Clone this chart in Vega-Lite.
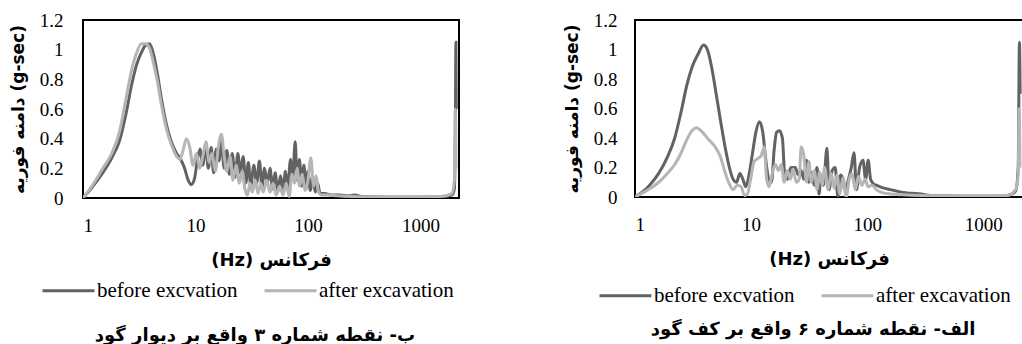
{
  "$schema": "https://vega.github.io/schema/vega-lite/v6.json",
  "padding": {"left": 8, "top": 10, "right": 0, "bottom": 0},
  "background": "white",
  "datasets": {
    "b": [
      {"f":1,"v":0,"s":"before excvation"},{"f":1.2,"v":0.07,"s":"before excvation"},{"f":1.5,"v":0.17,"s":"before excvation"},{"f":1.8,"v":0.27,"s":"before excvation"},{"f":2.1,"v":0.38,"s":"before excvation"},{"f":2.4,"v":0.56,"s":"before excvation"},{"f":2.7,"v":0.76,"s":"before excvation"},{"f":3.0,"v":0.9,"s":"before excvation"},{"f":3.3,"v":0.98,"s":"before excvation"},{"f":3.6,"v":1.03,"s":"before excvation"},{"f":3.9,"v":1.04,"s":"before excvation"},{"f":4.2,"v":0.98,"s":"before excvation"},{"f":4.6,"v":0.83,"s":"before excvation"},{"f":5.0,"v":0.66,"s":"before excvation"},{"f":5.5,"v":0.5,"s":"before excvation"},{"f":6.1,"v":0.38,"s":"before excvation"},{"f":6.8,"v":0.3,"s":"before excvation"},{"f":7.4,"v":0.26,"s":"before excvation"},{"f":8.0,"v":0.2,"s":"before excvation"},{"f":8.6,"v":0.12,"s":"before excvation"},{"f":9.2,"v":0.09,"s":"before excvation"},{"f":9.8,"v":0.13,"s":"before excvation"},{"f":10.4,"v":0.26,"s":"before excvation"},{"f":11.0,"v":0.33,"s":"before excvation"},{"f":11.6,"v":0.22,"s":"before excvation"},{"f":12.3,"v":0.35,"s":"before excvation"},{"f":13.0,"v":0.2,"s":"before excvation"},{"f":13.8,"v":0.34,"s":"before excvation"},{"f":14.5,"v":0.17,"s":"before excvation"},{"f":15.3,"v":0.33,"s":"before excvation"},{"f":16.2,"v":0.25,"s":"before excvation"},{"f":17.0,"v":0.38,"s":"before excvation"},{"f":18.0,"v":0.2,"s":"before excvation"},{"f":19.0,"v":0.32,"s":"before excvation"},{"f":20.0,"v":0.16,"s":"before excvation"},{"f":21.2,"v":0.3,"s":"before excvation"},{"f":22.5,"v":0.14,"s":"before excvation"},{"f":23.8,"v":0.3,"s":"before excvation"},{"f":25.0,"v":0.17,"s":"before excvation"},{"f":26.5,"v":0.28,"s":"before excvation"},{"f":28.0,"v":0.1,"s":"before excvation"},{"f":29.5,"v":0.24,"s":"before excvation"},{"f":31,"v":0.08,"s":"before excvation"},{"f":33,"v":0.22,"s":"before excvation"},{"f":35,"v":0.1,"s":"before excvation"},{"f":37,"v":0.25,"s":"before excvation"},{"f":39,"v":0.07,"s":"before excvation"},{"f":41,"v":0.2,"s":"before excvation"},{"f":43.5,"v":0.1,"s":"before excvation"},{"f":46,"v":0.2,"s":"before excvation"},{"f":48.5,"v":0.06,"s":"before excvation"},{"f":51,"v":0.17,"s":"before excvation"},{"f":54,"v":0.04,"s":"before excvation"},{"f":57,"v":0.15,"s":"before excvation"},{"f":60,"v":0.05,"s":"before excvation"},{"f":63,"v":0.18,"s":"before excvation"},{"f":66,"v":0.07,"s":"before excvation"},{"f":70,"v":0.26,"s":"before excvation"},{"f":73,"v":0.12,"s":"before excvation"},{"f":77,"v":0.38,"s":"before excvation"},{"f":80,"v":0.12,"s":"before excvation"},{"f":84,"v":0.26,"s":"before excvation"},{"f":88,"v":0.08,"s":"before excvation"},{"f":92,"v":0.22,"s":"before excvation"},{"f":96,"v":0.06,"s":"before excvation"},{"f":100,"v":0.18,"s":"before excvation"},{"f":105,"v":0.05,"s":"before excvation"},{"f":110,"v":0.14,"s":"before excvation"},{"f":116,"v":0.04,"s":"before excvation"},{"f":122,"v":0.1,"s":"before excvation"},{"f":128,"v":0.03,"s":"before excvation"},{"f":140,"v":0.03,"s":"before excvation"},{"f":160,"v":0.02,"s":"before excvation"},{"f":190,"v":0.02,"s":"before excvation"},{"f":230,"v":0.015,"s":"before excvation"},{"f":260,"v":0.02,"s":"before excvation"},{"f":300,"v":0.01,"s":"before excvation"},{"f":400,"v":0.008,"s":"before excvation"},{"f":600,"v":0.005,"s":"before excvation"},{"f":1000,"v":0.005,"s":"before excvation"},{"f":1500,"v":0.008,"s":"before excvation"},{"f":1900,"v":0.02,"s":"before excvation"},{"f":2000,"v":0.06,"s":"before excvation"},{"f":2040,"v":0.4,"s":"before excvation"},{"f":2065,"v":1.05,"s":"before excvation"},{"f":2080,"v":0.6,"s":"before excvation"},
      {"f":1,"v":0,"s":"after excavation"},{"f":1.2,"v":0.08,"s":"after excavation"},{"f":1.5,"v":0.2,"s":"after excavation"},{"f":1.8,"v":0.3,"s":"after excavation"},{"f":2.1,"v":0.44,"s":"after excavation"},{"f":2.4,"v":0.66,"s":"after excavation"},{"f":2.7,"v":0.86,"s":"after excavation"},{"f":3.0,"v":0.98,"s":"after excavation"},{"f":3.3,"v":1.04,"s":"after excavation"},{"f":3.6,"v":1.04,"s":"after excavation"},{"f":3.9,"v":1.01,"s":"after excavation"},{"f":4.2,"v":0.92,"s":"after excavation"},{"f":4.6,"v":0.78,"s":"after excavation"},{"f":5.0,"v":0.62,"s":"after excavation"},{"f":5.5,"v":0.47,"s":"after excavation"},{"f":6.1,"v":0.36,"s":"after excavation"},{"f":6.8,"v":0.28,"s":"after excavation"},{"f":7.3,"v":0.26,"s":"after excavation"},{"f":7.8,"v":0.33,"s":"after excavation"},{"f":8.3,"v":0.4,"s":"after excavation"},{"f":8.9,"v":0.34,"s":"after excavation"},{"f":9.5,"v":0.22,"s":"after excavation"},{"f":10.2,"v":0.3,"s":"after excavation"},{"f":10.9,"v":0.2,"s":"after excavation"},{"f":11.6,"v":0.28,"s":"after excavation"},{"f":12.4,"v":0.38,"s":"after excavation"},{"f":13.2,"v":0.24,"s":"after excavation"},{"f":14.0,"v":0.3,"s":"after excavation"},{"f":15.0,"v":0.18,"s":"after excavation"},{"f":16.0,"v":0.35,"s":"after excavation"},{"f":17.0,"v":0.43,"s":"after excavation"},{"f":18.0,"v":0.28,"s":"after excavation"},{"f":19.0,"v":0.18,"s":"after excavation"},{"f":20.3,"v":0.28,"s":"after excavation"},{"f":21.5,"v":0.12,"s":"after excavation"},{"f":23.0,"v":0.22,"s":"after excavation"},{"f":24.5,"v":0.1,"s":"after excavation"},{"f":26,"v":0.18,"s":"after excavation"},{"f":27.5,"v":0.06,"s":"after excavation"},{"f":29,"v":0.02,"s":"after excavation"},{"f":30.5,"v":0.1,"s":"after excavation"},{"f":32,"v":0.04,"s":"after excavation"},{"f":34,"v":0.12,"s":"after excavation"},{"f":36,"v":0.03,"s":"after excavation"},{"f":38,"v":0.1,"s":"after excavation"},{"f":40,"v":0.04,"s":"after excavation"},{"f":43,"v":0.12,"s":"after excavation"},{"f":46,"v":0.04,"s":"after excavation"},{"f":49,"v":0.1,"s":"after excavation"},{"f":52,"v":0.02,"s":"after excavation"},{"f":56,"v":0.08,"s":"after excavation"},{"f":60,"v":0.02,"s":"after excavation"},{"f":64,"v":0.1,"s":"after excavation"},{"f":68,"v":0.01,"s":"after excavation"},{"f":72,"v":0.16,"s":"after excavation"},{"f":76,"v":0.1,"s":"after excavation"},{"f":80,"v":0.2,"s":"after excavation"},{"f":84,"v":0.08,"s":"after excavation"},{"f":89,"v":0.16,"s":"after excavation"},{"f":94,"v":0.05,"s":"after excavation"},{"f":100,"v":0.12,"s":"after excavation"},{"f":106,"v":0.27,"s":"after excavation"},{"f":112,"v":0.08,"s":"after excavation"},{"f":118,"v":0.15,"s":"after excavation"},{"f":124,"v":0.04,"s":"after excavation"},{"f":132,"v":0.02,"s":"after excavation"},{"f":150,"v":0.02,"s":"after excavation"},{"f":180,"v":0.015,"s":"after excavation"},{"f":250,"v":0.01,"s":"after excavation"},{"f":400,"v":0.008,"s":"after excavation"},{"f":800,"v":0.008,"s":"after excavation"},{"f":1500,"v":0.01,"s":"after excavation"},{"f":1900,"v":0.03,"s":"after excavation"},{"f":2000,"v":0.12,"s":"after excavation"},{"f":2040,"v":0.6,"s":"after excavation"},{"f":2070,"v":0.2,"s":"after excavation"}
    ],
    "a": [
      {"f":1,"v":0,"s":"before excvation"},{"f":1.3,"v":0.07,"s":"before excvation"},{"f":1.6,"v":0.16,"s":"before excvation"},{"f":1.9,"v":0.27,"s":"before excvation"},{"f":2.2,"v":0.4,"s":"before excvation"},{"f":2.5,"v":0.58,"s":"before excvation"},{"f":2.8,"v":0.76,"s":"before excvation"},{"f":3.1,"v":0.88,"s":"before excvation"},{"f":3.5,"v":0.97,"s":"before excvation"},{"f":3.9,"v":1.03,"s":"before excvation"},{"f":4.2,"v":1.0,"s":"before excvation"},{"f":4.6,"v":0.87,"s":"before excvation"},{"f":5.0,"v":0.7,"s":"before excvation"},{"f":5.5,"v":0.5,"s":"before excvation"},{"f":6.0,"v":0.33,"s":"before excvation"},{"f":6.5,"v":0.2,"s":"before excvation"},{"f":7.0,"v":0.12,"s":"before excvation"},{"f":7.5,"v":0.1,"s":"before excvation"},{"f":8.0,"v":0.16,"s":"before excvation"},{"f":8.5,"v":0.12,"s":"before excvation"},{"f":9.0,"v":0.07,"s":"before excvation"},{"f":9.6,"v":0.15,"s":"before excvation"},{"f":10.3,"v":0.3,"s":"before excvation"},{"f":11.0,"v":0.44,"s":"before excvation"},{"f":11.8,"v":0.51,"s":"before excvation"},{"f":12.6,"v":0.44,"s":"before excvation"},{"f":13.4,"v":0.25,"s":"before excvation"},{"f":14.2,"v":0.12,"s":"before excvation"},{"f":15.0,"v":0.1,"s":"before excvation"},{"f":15.8,"v":0.32,"s":"before excvation"},{"f":16.6,"v":0.44,"s":"before excvation"},{"f":17.6,"v":0.45,"s":"before excvation"},{"f":18.6,"v":0.4,"s":"before excvation"},{"f":19.5,"v":0.15,"s":"before excvation"},{"f":20.5,"v":0.12,"s":"before excvation"},{"f":22,"v":0.2,"s":"before excvation"},{"f":24,"v":0.2,"s":"before excvation"},{"f":25.5,"v":0.15,"s":"before excvation"},{"f":27,"v":0.18,"s":"before excvation"},{"f":28.5,"v":0.12,"s":"before excvation"},{"f":30,"v":0.25,"s":"before excvation"},{"f":31.5,"v":0.1,"s":"before excvation"},{"f":33,"v":0.17,"s":"before excvation"},{"f":35,"v":0.08,"s":"before excvation"},{"f":37,"v":0.2,"s":"before excvation"},{"f":38.5,"v":0.02,"s":"before excvation"},{"f":40,"v":0.15,"s":"before excvation"},{"f":42,"v":0.08,"s":"before excvation"},{"f":45,"v":0.33,"s":"before excvation"},{"f":47,"v":0.05,"s":"before excvation"},{"f":50,"v":0.18,"s":"before excvation"},{"f":53,"v":0.2,"s":"before excvation"},{"f":56,"v":0.0,"s":"before excvation"},{"f":59,"v":0.15,"s":"before excvation"},{"f":62,"v":0.12,"s":"before excvation"},{"f":65,"v":0.04,"s":"before excvation"},{"f":69,"v":0.12,"s":"before excvation"},{"f":73,"v":0.2,"s":"before excvation"},{"f":77,"v":0.3,"s":"before excvation"},{"f":81,"v":0.05,"s":"before excvation"},{"f":86,"v":0.2,"s":"before excvation"},{"f":92,"v":0.25,"s":"before excvation"},{"f":97,"v":0.12,"s":"before excvation"},{"f":102,"v":0.25,"s":"before excvation"},{"f":107,"v":0.12,"s":"before excvation"},{"f":113,"v":0.09,"s":"before excvation"},{"f":120,"v":0.08,"s":"before excvation"},{"f":128,"v":0.07,"s":"before excvation"},{"f":140,"v":0.06,"s":"before excvation"},{"f":158,"v":0.05,"s":"before excvation"},{"f":180,"v":0.04,"s":"before excvation"},{"f":205,"v":0.03,"s":"before excvation"},{"f":240,"v":0.025,"s":"before excvation"},{"f":290,"v":0.02,"s":"before excvation"},{"f":350,"v":0.01,"s":"before excvation"},{"f":500,"v":0.008,"s":"before excvation"},{"f":800,"v":0.005,"s":"before excvation"},{"f":1200,"v":0.005,"s":"before excvation"},{"f":1600,"v":0.01,"s":"before excvation"},{"f":1900,"v":0.04,"s":"before excvation"},{"f":2000,"v":0.2,"s":"before excvation"},{"f":2050,"v":1.05,"s":"before excvation"},{"f":2080,"v":0.7,"s":"before excvation"},
      {"f":1,"v":0,"s":"after excavation"},{"f":1.3,"v":0.05,"s":"after excavation"},{"f":1.6,"v":0.1,"s":"after excavation"},{"f":1.9,"v":0.16,"s":"after excavation"},{"f":2.2,"v":0.22,"s":"after excavation"},{"f":2.5,"v":0.3,"s":"after excavation"},{"f":2.8,"v":0.39,"s":"after excavation"},{"f":3.1,"v":0.45,"s":"after excavation"},{"f":3.4,"v":0.47,"s":"after excavation"},{"f":3.8,"v":0.44,"s":"after excavation"},{"f":4.3,"v":0.39,"s":"after excavation"},{"f":4.9,"v":0.34,"s":"after excavation"},{"f":5.4,"v":0.28,"s":"after excavation"},{"f":5.9,"v":0.18,"s":"after excavation"},{"f":6.4,"v":0.1,"s":"after excavation"},{"f":7.0,"v":0.05,"s":"after excavation"},{"f":7.6,"v":0.08,"s":"after excavation"},{"f":8.2,"v":0.07,"s":"after excavation"},{"f":8.8,"v":0.01,"s":"after excavation"},{"f":9.3,"v":0.02,"s":"after excavation"},{"f":9.9,"v":0.12,"s":"after excavation"},{"f":10.6,"v":0.24,"s":"after excavation"},{"f":11.4,"v":0.26,"s":"after excavation"},{"f":12.2,"v":0.28,"s":"after excavation"},{"f":13.0,"v":0.34,"s":"after excavation"},{"f":13.6,"v":0.12,"s":"after excavation"},{"f":14.3,"v":0.07,"s":"after excavation"},{"f":15.2,"v":0.16,"s":"after excavation"},{"f":16.2,"v":0.22,"s":"after excavation"},{"f":17.2,"v":0.18,"s":"after excavation"},{"f":18.2,"v":0.22,"s":"after excavation"},{"f":19.3,"v":0.1,"s":"after excavation"},{"f":20.5,"v":0.18,"s":"after excavation"},{"f":21.8,"v":0.12,"s":"after excavation"},{"f":23,"v":0.19,"s":"after excavation"},{"f":24.5,"v":0.1,"s":"after excavation"},{"f":26,"v":0.12,"s":"after excavation"},{"f":27,"v":0.34,"s":"after excavation"},{"f":28.5,"v":0.28,"s":"after excavation"},{"f":30,"v":0.1,"s":"after excavation"},{"f":31.5,"v":0.24,"s":"after excavation"},{"f":33,"v":0.1,"s":"after excavation"},{"f":35,"v":0.18,"s":"after excavation"},{"f":37,"v":0.05,"s":"after excavation"},{"f":39,"v":0.17,"s":"after excavation"},{"f":41,"v":0.08,"s":"after excavation"},{"f":43,"v":0.2,"s":"after excavation"},{"f":46,"v":0.05,"s":"after excavation"},{"f":49,"v":0.16,"s":"after excavation"},{"f":52,"v":0.06,"s":"after excavation"},{"f":55,"v":0.15,"s":"after excavation"},{"f":58,"v":0.02,"s":"after excavation"},{"f":62,"v":0.13,"s":"after excavation"},{"f":66,"v":0.0,"s":"after excavation"},{"f":70,"v":0.12,"s":"after excavation"},{"f":74,"v":0.16,"s":"after excavation"},{"f":79,"v":0.05,"s":"after excavation"},{"f":84,"v":0.14,"s":"after excavation"},{"f":90,"v":0.08,"s":"after excavation"},{"f":96,"v":0.12,"s":"after excavation"},{"f":102,"v":0.07,"s":"after excavation"},{"f":110,"v":0.08,"s":"after excavation"},{"f":120,"v":0.05,"s":"after excavation"},{"f":135,"v":0.03,"s":"after excavation"},{"f":160,"v":0.02,"s":"after excavation"},{"f":200,"v":0.015,"s":"after excavation"},{"f":300,"v":0.01,"s":"after excavation"},{"f":500,"v":0.008,"s":"after excavation"},{"f":1000,"v":0.008,"s":"after excavation"},{"f":1600,"v":0.01,"s":"after excavation"},{"f":1900,"v":0.05,"s":"after excavation"},{"f":2000,"v":0.15,"s":"after excavation"},{"f":2040,"v":0.6,"s":"after excavation"},{"f":2070,"v":0.2,"s":"after excavation"}
    ]
  },
  "config": {
    "view": {"stroke": "black", "strokeWidth": 2},
    "axis": {
      "domain": false, "ticks": false, "grid": false,
      "labelFont": "Liberation Serif", "labelFontSize": 19, "labelColor": "black",
      "titleFont": "DejaVu Sans", "titleFontWeight": "bold", "titleFontSize": 17, "titleColor": "black"
    },
    "legend": {
      "labelFont": "Liberation Serif", "labelFontSize": 21, "labelColor": "black"
    },
    "title": {"font": "DejaVu Sans", "fontSize": 18, "fontWeight": "bold", "color": "black"}
  },
  "resolve": {"legend": {"color": "independent"}, "scale": {"color": "independent"}},
  "spacing": 102,
  "hconcat": [
    {
      "width": 376, "height": 178,
      "title": {"text": "ب- نقطه شماره ۳ واقع بر دیوار گود", "orient": "bottom", "frame": "group", "dx": -16, "offset": 26},
      "data": {"name": "b"},
      "encoding": {
        "x": {"field": "f", "type": "quantitative", "scale": {"type": "log", "domain": [1, 2200]},
              "axis": {"values": [1, 10, 100, 1000], "format": "d", "labelPadding": 18, "title": "(Hz)  فرکانس", "titlePadding": 16, "titleFontSize": 18}},
        "y": {"field": "v", "type": "quantitative", "scale": {"domain": [0, 1.2]},
              "axis": {"values": [0, 0.2, 0.4, 0.6, 0.8, 1, 1.2], "format": ".1~f", "labelPadding": 20, "title": "دامنه فوریه (g-sec)", "titlePadding": 12}},
        "color": {"field": "s", "type": "nominal",
                  "scale": {"domain": ["before excvation", "after excavation"], "range": ["#626262", "#b5b5b5"]},
                  "legend": {"orient": "none", "legendX": -42, "legendY": 243, "direction": "horizontal", "title": null, "symbolType": "stroke", "symbolSize": 2700, "symbolStrokeWidth": 3, "columnPadding": 20, "labelOffset": 1}}
      },
      "layer": [
        {"transform": [{"filter": "datum.s === 'before excvation'"}], "mark": {"type": "line", "strokeWidth": 3, "clip": true, "interpolate": "monotone"}},
        {"transform": [{"filter": "datum.s === 'after excavation'"}], "mark": {"type": "line", "strokeWidth": 3, "clip": true, "interpolate": "monotone"}}
      ]
    },
    {
      "width": 388, "height": 177,
      "title": {"text": "الف- نقطه شماره ۶ واقع بر کف گود", "orient": "bottom", "frame": "group", "dx": -16, "offset": 15},
      "data": {"name": "a"},
      "encoding": {
        "x": {"field": "f", "type": "quantitative", "scale": {"type": "log", "domain": [1, 2200]},
              "axis": {"values": [1, 10, 100, 1000], "format": "d", "labelPadding": 18, "title": "(Hz) فرکانس", "titlePadding": 16, "titleFontSize": 18}},
        "y": {"field": "v", "type": "quantitative", "scale": {"domain": [0, 1.2]},
              "axis": {"values": [0, 0.2, 0.4, 0.6, 0.8, 1, 1.2], "format": ".1~f", "labelPadding": 18, "title": "دامنه فوریه (g-sec)", "titlePadding": 12}},
        "color": {"field": "s", "type": "nominal",
                  "scale": {"domain": ["before excvation", "after excavation"], "range": ["#626262", "#b5b5b5"]},
                  "legend": {"orient": "none", "legendX": -37, "legendY": 248, "direction": "horizontal", "title": null, "symbolType": "stroke", "symbolSize": 2700, "symbolStrokeWidth": 3, "columnPadding": 20, "labelOffset": 1}}
      },
      "layer": [
        {"transform": [{"filter": "datum.s === 'before excvation'"}], "mark": {"type": "line", "strokeWidth": 3, "clip": true, "interpolate": "monotone"}},
        {"transform": [{"filter": "datum.s === 'after excavation'"}], "mark": {"type": "line", "strokeWidth": 3, "clip": true, "interpolate": "monotone"}}
      ]
    }
  ]
}
